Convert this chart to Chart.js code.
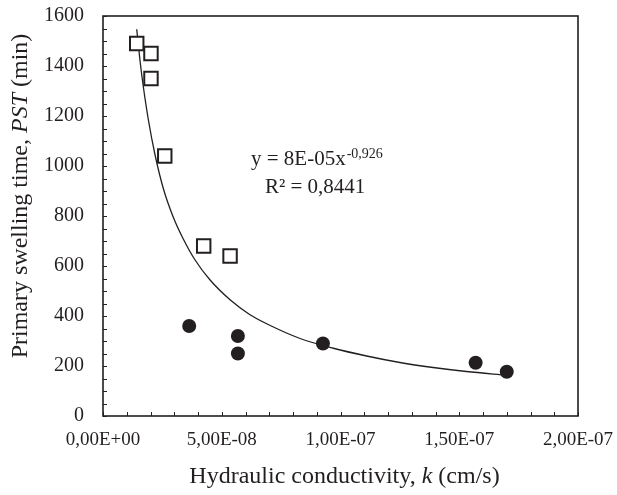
<!DOCTYPE html>
<html>
<head>
<meta charset="utf-8">
<script src="https://cdn.jsdelivr.net/npm/chart.js@4.4.1/dist/chart.umd.min.js"></script>
<style>
  html, body { margin: 0; padding: 0; background: #fff; }
  #wrap { width: 617px; height: 495px; }
</style>
</head>
<body>
<div id="wrap"><canvas id="pstChart" width="617" height="495"></canvas></div>
<script>
// values
const openK = [1.42e-8, 2.02e-8, 2.02e-8, 2.6e-8, 4.24e-8, 5.35e-8];
const openPST = [1490, 1450, 1350, 1040, 680, 640];
const filledK = [3.63e-8, 5.68e-8, 5.68e-8, 9.26e-8, 1.569e-7, 1.70e-7];
const filledPST = [360, 320, 250, 290, 213, 177];

// power trendline
const trendK = [1.42e-8, 1.56e-8, 1.70e-8, 1.91e-8, 2.19e-8, 2.54e-8, 2.96e-8, 3.38e-8, 3.87e-8, 4.5e-8,
                5.35e-8, 6.19e-8, 6.89e-8, 8.3e-8, 9.7e-8, 1.11e-7, 1.25e-7, 1.39e-7, 1.53e-7, 1.70e-7];
const trendPST = [1547, 1420, 1316, 1185, 1045, 910, 795, 708, 625, 545,
                  465, 405, 369, 310, 271, 240, 214, 194, 178, 163];

const xTickLabels = ['0,00E+00', '5,00E-08', '1,00E-07', '1,50E-07', '2,00E-07'];
const yTickLabels = ['0', '200', '400', '600', '800', '1000', '1200', '1400', '1600'];

const xTitle = [['Hydraulic conductivity, ', false], ['k', true], [' (cm/s)', false]];
const yTitle = [['Primary swelling time, ', false], ['PST', true], [' (min)', false]];

const ink = '#231f20';
const serif = "'Liberation Serif', 'Times New Roman', serif";

const toPoints = (xs, ys) => xs.map((x, i) => ({ x: x, y: ys[i] }));

// title with italic pieces, centred on (0, baseline)
function drawTitle(ctx, parts, size) {
    const fontFor = (it) => (it ? 'italic ' : '') + size + 'px ' + serif;
    let total = 0;
    parts.forEach(([t, it]) => { ctx.font = fontFor(it); total += ctx.measureText(t).width; });
    let x = -total / 2;
    parts.forEach(([t, it]) => {
        ctx.font = fontFor(it);
        ctx.fillText(t, x, 0);
        x += ctx.measureText(t).width;
    });
}

// frame + inward minor ticks + titles + trendline equation
const framePlugin = {
    id: 'frame',
    afterDraw(chart) {
        const { ctx, chartArea: a, scales } = chart;
        ctx.save();
        ctx.strokeStyle = ink;
        ctx.lineWidth = 1.6;
        ctx.strokeRect(a.left, a.top, a.right - a.left, a.bottom - a.top);

        ctx.lineWidth = 1;
        ctx.beginPath();
        for (let v = 0; v <= 1600; v += 50) {
            const py = Math.round(scales.y.getPixelForValue(v)) + 0.5;
            ctx.moveTo(a.left, py);
            ctx.lineTo(a.left + 4, py);
        }
        for (let i = 0; i <= 20; i++) {
            const px = Math.round(scales.x.getPixelForValue(i * 1e-8)) + 0.5;
            ctx.moveTo(px, a.bottom);
            ctx.lineTo(px, a.bottom - 4);
        }
        ctx.stroke();

        ctx.fillStyle = ink;
        ctx.textBaseline = 'alphabetic';
        ctx.textAlign = 'left';

        // axis titles
        ctx.save();
        ctx.translate((a.left + a.right) / 2 + 4, 483);
        drawTitle(ctx, xTitle, 24);
        ctx.restore();
        ctx.save();
        ctx.translate(27, (a.top + a.bottom) / 2 - 20);
        ctx.rotate(-Math.PI / 2);
        drawTitle(ctx, yTitle, 24);
        ctx.restore();

        // equation text
        const ex = scales.x.getPixelForValue(6.23e-8);
        const ey = scales.y.getPixelForValue(1004);
        ctx.font = '21px ' + serif;
        const main = 'y = 8E-05x';
        ctx.fillText(main, ex, ey);
        const w = ctx.measureText(main).width;
        ctx.font = '14px ' + serif;
        ctx.fillText('-0,926', ex + w + 1, ey - 7);
        ctx.font = '21px ' + serif;
        ctx.fillText('R\u00b2 = 0,8441', ex + 14, ey + 28);
        ctx.restore();
    }
};

new Chart(document.getElementById('pstChart'), {
    type: 'scatter',
    data: {
        datasets: [
            {
                label: 'trend',
                type: 'line',
                data: toPoints(trendK, trendPST),
                borderColor: ink,
                borderWidth: 1.3,
                pointRadius: 0,
                fill: false,
                cubicInterpolationMode: 'monotone',
                order: 3
            },
            {
                label: 'open',
                data: toPoints(openK, openPST),
                pointStyle: 'rect',
                pointRadius: 9.5,
                pointBorderWidth: 2,
                pointBorderColor: ink,
                pointBackgroundColor: '#ffffff',
                order: 1
            },
            {
                label: 'filled',
                data: toPoints(filledK, filledPST),
                pointStyle: 'circle',
                pointRadius: 7,
                pointBorderWidth: 0,
                pointBackgroundColor: ink,
                order: 2
            }
        ]
    },
    options: {
        responsive: false,
        animation: false,
        devicePixelRatio: 1,
        layout: { padding: { top: 16, right: 39, left: 0, bottom: 0 } },
        plugins: {
            legend: { display: false },
            tooltip: { enabled: false }
        },
        scales: {
            x: {
                type: 'linear',
                min: 0,
                max: 2e-7,
                afterFit: (s) => { s.height = 79; s.paddingLeft = 0; s.paddingRight = 0; },
                grid: { display: false, drawTicks: false },
                border: { display: false },
                ticks: {
                    stepSize: 5e-8,
                    padding: 13,
                    color: ink,
                    font: { family: serif, size: 19 },
                    maxRotation: 0,
                    callback: (v, i) => xTickLabels[i]
                }
            },
            y: {
                type: 'linear',
                min: 0,
                max: 1600,
                afterFit: (s) => { s.width = 103; s.paddingTop = 0; s.paddingBottom = 0; },
                grid: { display: false, drawTicks: false },
                border: { display: false },
                ticks: {
                    stepSize: 200,
                    padding: 19,
                    color: ink,
                    font: { family: serif, size: 20 },
                    callback: (v, i) => yTickLabels[i]
                }
            }
        }
    },
    plugins: [framePlugin]
});
</script>
</body>
</html>
